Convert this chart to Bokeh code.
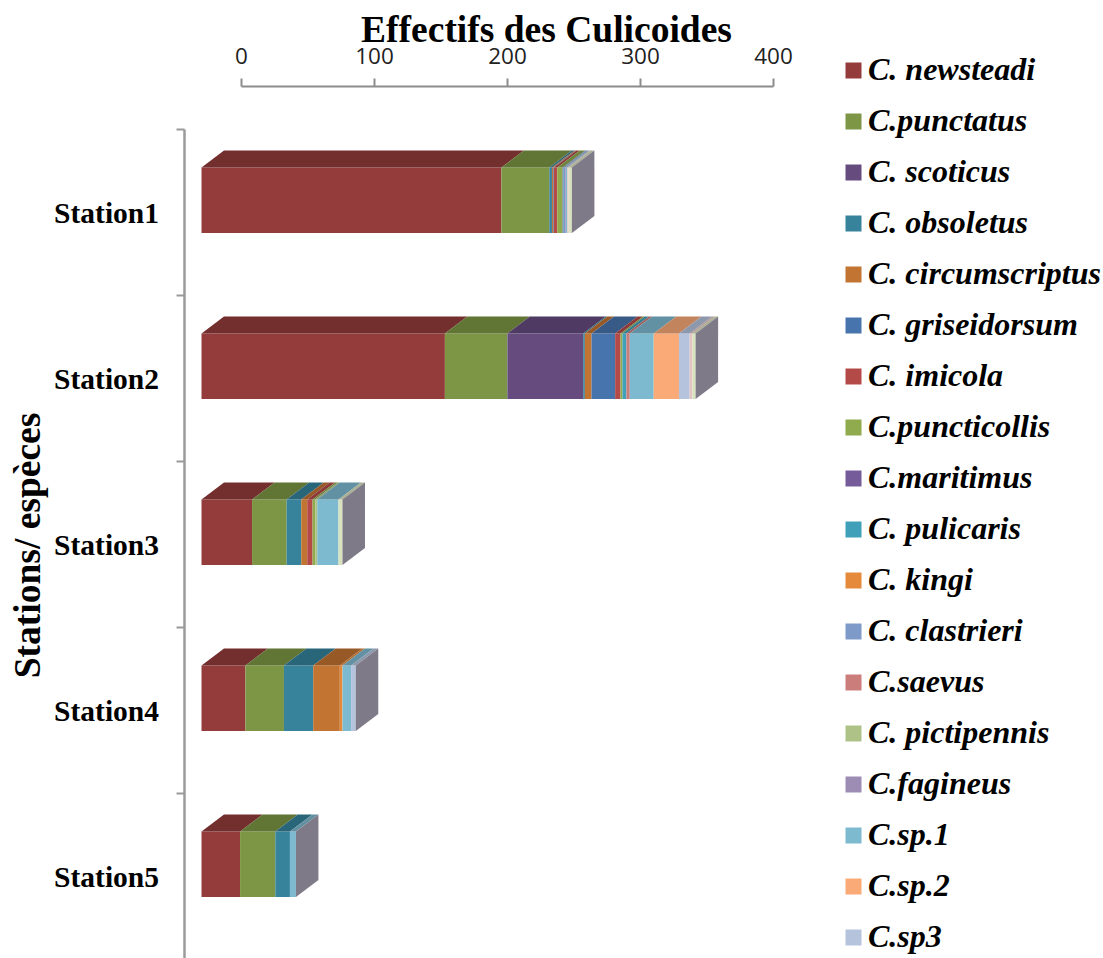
from bokeh.plotting import figure
from bokeh.models import (Range1d, LinearAxis, FixedTicker, Legend, LegendItem, Label)
from bokeh.core.properties import value
from bokeh.embed import file_html
from bokeh.resources import INLINE
import math

stations = ["Station1", "Station2", "Station3", "Station4", "Station5"]
x_ticks = [0, 100, 200, 300, 400]

newsteadi = [225.5, 183, 38, 33, 29]
punctatus = [36, 47, 26, 29, 26.5]
scoticus = [0, 57, 0, 0, 0]
obsoletus = [2, 1.25, 11, 22, 11]
circumscriptus = [1, 5, 4.5, 20, 0]
griseidorsum = [0.5, 17.75, 0, 0, 0]
imicola = [2.5, 4, 4, 0, 0]
puncticollis = [4, 1.5, 2, 0, 0]
maritimus = [0.5, 0, 0, 0, 0]
pulicaris = [0.5, 3, 0, 0, 0]
kingi = [0, 0, 0, 2, 0]
clastrieri = [1, 0, 0, 0, 0]
saevus = [0, 2.5, 0, 0, 0]
pictipennis = [0, 0, 1.5, 0, 0]
fagineus = [0.5, 0, 0, 0, 0]
sp1 = [1, 18, 16, 6.5, 4.5]
sp2 = [0, 19, 0, 0, 0]
sp3 = [0, 8, 0, 3.5, 0]
unnamed_pink = [1, 2, 0, 0, 0]
unnamed_pale = [2.5, 2.5, 3, 0, 0]

series = [
    ("C. newsteadi", newsteadi, "#943c3c"),
    ("C.punctatus", punctatus, "#7d9645"),
    ("C. scoticus", scoticus, "#654b7e"),
    ("C. obsoletus", obsoletus, "#37839c"),
    ("C. circumscriptus", circumscriptus, "#c27432"),
    ("C. griseidorsum", griseidorsum, "#4874ae"),
    ("C. imicola", imicola, "#b44a47"),
    ("C.puncticollis", puncticollis, "#8fab4d"),
    ("C.maritimus", maritimus, "#765b9a"),
    ("C. pulicaris", pulicaris, "#41a0b9"),
    ("C. kingi", kingi, "#e48a3a"),
    ("C. clastrieri", clastrieri, "#7e9ac9"),
    ("C.saevus", saevus, "#cb7d7b"),
    ("C. pictipennis", pictipennis, "#aec287"),
    ("C.fagineus", fagineus, "#9d8cb4"),
    ("C.sp.1", sp1, "#7dbad0"),
    ("C.sp.2", sp2, "#f9aa77"),
    ("C.sp3", sp3, "#b6c3dd"),
    (None, unnamed_pink, "#e3c4c3"),
    (None, unnamed_pale, "#d9e2bf"),
]

SCALE = 1.33          # px per unit on x
BAND = 166.0          # px per station on y
W, H = 1103, 958


def xd(px):
    return (px - 201) / SCALE


def yd(py):
    return 0.5 + (py - 129) / BAND


DEPTH_X = 22.5 / SCALE
DEPTH_Y = 17 / BAND
BAR_H = 65.5 / BAND
BAR_SHIFT = -12.25 / BAND
SIDE = "#7e7a87"
AXIS = "#8c8c8c"
SERIF = "Liberation Serif"


def darker(c, f=0.78):
    r, g, b = (int(c[i:i + 2], 16) for i in (1, 3, 5))
    return "#%02x%02x%02x" % (int(r * f), int(g * f), int(b * f))


p = figure(width=W, height=H, output_backend="svg", toolbar_location=None,
           x_range=Range1d(xd(0), xd(W)),
           y_range=Range1d(yd(H), yd(0)),
           x_axis_location=None, y_axis_location=None,
           min_border=0)
p.grid.visible = False
p.outline_line_color = None
p.background_fill_color = "white"

p.extra_x_ranges["axis"] = Range1d((0 - 241) / SCALE, (W - 241) / SCALE)
top_axis = LinearAxis(x_range_name="axis", ticker=FixedTicker(ticks=x_ticks), bounds=(0, 400),
                      fixed_location=yd(85.5))
top_axis.axis_line_color = AXIS
top_axis.axis_line_width = 2
top_axis.major_tick_line_color = AXIS
top_axis.major_tick_line_width = 2
top_axis.major_tick_out = 8
top_axis.major_tick_in = 0
top_axis.minor_tick_out = 0
top_axis.minor_tick_in = 0
top_axis.major_label_text_font = "Open Sans"
top_axis.major_label_text_font_size = "22.5px"
top_axis.major_label_text_color = "#222222"
top_axis.major_label_standoff = 14
p.add_layout(top_axis, "above")

centers = list(range(1, len(stations) + 1))
left_axis = LinearAxis(ticker=FixedTicker(ticks=centers, minor_ticks=[c - 0.5 for c in centers] + [centers[-1] + 0.5]),
                       bounds=(0.5, yd(H)), fixed_location=xd(183.5))
left_axis.major_label_overrides = {c: s for c, s in zip(centers, stations)}
left_axis.axis_line_color = "#9a9a9a"
left_axis.axis_line_width = 2.5
left_axis.major_tick_line_color = None
left_axis.major_tick_out = 0
left_axis.major_tick_in = 0
left_axis.minor_tick_line_color = "#9a9a9a"
left_axis.minor_tick_line_width = 2
left_axis.minor_tick_out = 8
left_axis.minor_tick_in = 0
left_axis.major_label_text_font = SERIF
left_axis.major_label_text_font_style = "bold"
left_axis.major_label_text_font_size = "29.5px"
left_axis.major_label_text_color = "black"
left_axis.major_label_standoff = 17
p.add_layout(left_axis, "left")

ys_front = [c + BAR_SHIFT for c in centers]
items = []
cum = [0.0] * len(stations)
for name, vals, color in series:
    lefts = list(cum)
    rights = [a + b for a, b in zip(cum, vals)]
    cum = rights
    r = p.hbar(y=ys_front, left=lefts, right=rights, height=BAR_H,
               fill_color=color, line_color=None)
    if name:
        items.append(LegendItem(label=value(name), renderers=[r]))
    top = darker(color)
    xs, ys = [], []
    for l, rr, c in zip(lefts, rights, ys_front):
        if rr > l:
            t = c - BAR_H / 2
            xs.append([l, rr, rr + DEPTH_X, l + DEPTH_X])
            ys.append([t, t, t - DEPTH_Y, t - DEPTH_Y])
    p.patches(xs, ys, fill_color=top, line_color=None)

side_x, side_y = [], []
for total, c in zip(cum, ys_front):
    t, b = c - BAR_H / 2, c + BAR_H / 2
    side_x.append([total, total + DEPTH_X, total + DEPTH_X, total])
    side_y.append([t, t - DEPTH_Y, b - DEPTH_Y, b])
p.patches(side_x, side_y, fill_color=SIDE, line_color=None)

legend = Legend(items=items, location=(843, 3), orientation="vertical",
                background_fill_alpha=0, border_line_color=None,
                padding=0, margin=0, glyph_width=20, glyph_height=20,
                label_standoff=5, label_text_font=SERIF,
                label_text_font_style="bold italic",
                label_text_font_size="32px", label_text_color="black",
                label_height=20, spacing=14)
p.add_layout(legend, "center")

p.add_layout(Label(x=xd(546), y=yd(29), text="Effectifs des Culicoides", text_font=SERIF,
                   text_font_style="bold", text_font_size="37.5px", text_color="black",
                   text_align="center", text_baseline="middle"))
p.add_layout(Label(x=xd(27), y=yd(545), text="Stations/ espèces", text_font=SERIF,
                   text_font_style="bold", text_font_size="37.5px", text_color="black",
                   text_align="center", text_baseline="middle", angle=math.pi / 2))

open("out.html", "w").write(file_html(p, INLINE))
